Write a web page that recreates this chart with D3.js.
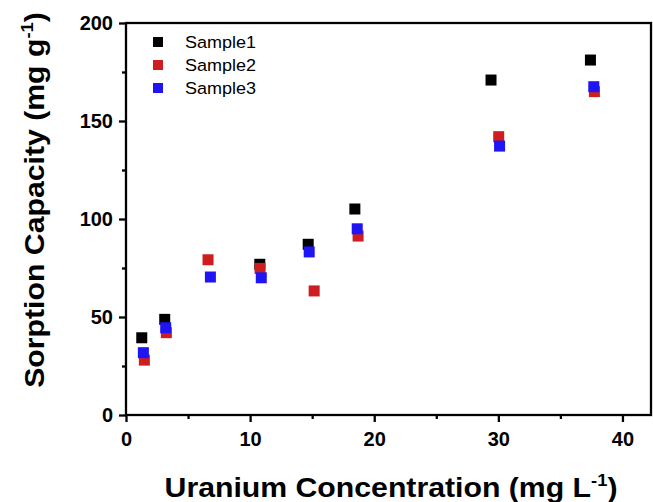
<!DOCTYPE html>
<html>
<head>
<meta charset="utf-8">
<script src="https://cdn.jsdelivr.net/npm/d3@7/dist/d3.min.js"></script>
<style>
  html, body { margin: 0; padding: 0; background: #fff; }
  svg { display: block; font-family: "Liberation Sans", Arial, sans-serif; }
</style>
</head>
<body>
<svg id="chart" width="653" height="502"></svg>
<script>
// Uranium sorption data (x: concentration mg/L, y: capacity mg/g)
const seriesNames = ["Sample1", "Sample2", "Sample3"];
const seriesColors = ["#000000", "#cf1d1f", "#1f14f4"];

const sample1X = [1.27, 3.12, 10.78, 14.68, 18.44, 29.41, 37.42];
const sample1Y = [39.4, 48.8, 76.9, 87.1, 105.1, 170.9, 181.1];

const sample2X = [1.48, 3.25, 6.61, 10.8, 15.16, 18.7, 30.03, 37.74];
const sample2Y = [28.0, 42.0, 79.2, 74.8, 63.3, 91.3, 142.0, 165.0];

const sample3X = [1.4, 3.2, 6.8, 10.9, 14.76, 18.63, 30.1, 37.69];
const sample3Y = [31.8, 44.5, 70.4, 70.0, 83.2, 95.0, 137.2, 167.5];

const xTicks = [0, 10, 20, 30, 40];
const yTicks = [0, 50, 100, 150, 200];

const series = [
  { name: seriesNames[0], color: seriesColors[0], xs: sample1X, ys: sample1Y },
  { name: seriesNames[1], color: seriesColors[1], xs: sample2X, ys: sample2Y },
  { name: seriesNames[2], color: seriesColors[2], xs: sample3X, ys: sample3Y }
];

const svg = d3.select("#chart");
const plotL = 126, plotR = 651, plotT = 23, plotB = 415;

const x = d3.scaleLinear().domain([0, 42.3]).range([plotL, plotR]);
const y = d3.scaleLinear().domain([0, 200]).range([plotB, plotT]);

const axisW = 2.3;

// minor ticks
const xMinor = d3.range(5, 42, 10);
const yMinor = d3.range(25, 200, 50);

const xAxis = d3.axisBottom(x).tickValues(xTicks).tickSize(7).tickPadding(10).tickFormat(d3.format("d"));
const yAxis = d3.axisLeft(y).tickValues(yTicks).tickSize(7).tickPadding(6).tickFormat(d3.format("d"));

const gx = svg.append("g").attr("transform", `translate(0,${plotB})`).call(xAxis);
const gy = svg.append("g").attr("transform", `translate(${plotL},0)`).call(yAxis);

svg.append("g").attr("transform", `translate(0,${plotB})`)
  .call(d3.axisBottom(x).tickValues(xMinor).tickSize(4).tickFormat(""))
  .call(g => g.select(".domain").remove())
  .selectAll("line").attr("stroke-width", axisW);
svg.append("g").attr("transform", `translate(${plotL},0)`)
  .call(d3.axisLeft(y).tickValues(yMinor).tickSize(4).tickFormat(""))
  .call(g => g.select(".domain").remove())
  .selectAll("line").attr("stroke-width", axisW);

[gx, gy].forEach(g => {
  g.select(".domain").remove();
  g.selectAll("line").attr("stroke-width", axisW).attr("stroke", "#000");
  g.selectAll("text")
    .attr("font-size", "20px")
    .attr("font-weight", "bold")
    .attr("fill", "#000")
    .attr("font-family", "'Liberation Sans', Arial, sans-serif");
});

// frame
svg.append("rect")
  .attr("x", plotL).attr("y", plotT)
  .attr("width", plotR - plotL).attr("height", plotB - plotT)
  .attr("fill", "none").attr("stroke", "#000").attr("stroke-width", axisW);

// markers
const size = 11;
series.forEach(s => {
  svg.append("g").selectAll("rect")
    .data(s.xs.map((v, i) => [v, s.ys[i]]))
    .join("rect")
    .attr("x", d => x(d[0]) - size / 2)
    .attr("y", d => y(d[1]) - size / 2)
    .attr("width", size).attr("height", size)
    .attr("fill", s.color);
});

// legend
const legend = svg.append("g");
series.forEach((s, i) => {
  const ly = 42 + i * 23;
  legend.append("rect")
    .attr("x", 158 - 5).attr("y", ly - 5)
    .attr("width", 10).attr("height", 10)
    .attr("fill", s.color);
  legend.append("text")
    .attr("transform", `translate(185,${ly + 6}) scale(1.06,1)`)
    .attr("font-size", "17px")
    .attr("fill", "#000")
    .text(s.name);
});

// axis titles
const xt = svg.append("text")
  .attr("transform", "translate(391,497) scale(1.08,1)")
  .attr("text-anchor", "middle")
  .attr("font-size", "28px").attr("font-weight", "bold");
xt.append("tspan").text("Uranium Concentration (mg L");
xt.append("tspan").attr("dy", -11).attr("font-size", "17px").text("-1");
xt.append("tspan").attr("dy", 11).text(")");

const yt = svg.append("text")
  .attr("transform", "translate(44,200) rotate(-90) scale(1.08,1)")
  .attr("text-anchor", "middle")
  .attr("font-size", "28px").attr("font-weight", "bold");
yt.append("tspan").text("Sorption Capacity (mg g");
yt.append("tspan").attr("dy", -11).attr("font-size", "17px").text("-1");
yt.append("tspan").attr("dy", 11).text(")");
</script>
</body>
</html>
